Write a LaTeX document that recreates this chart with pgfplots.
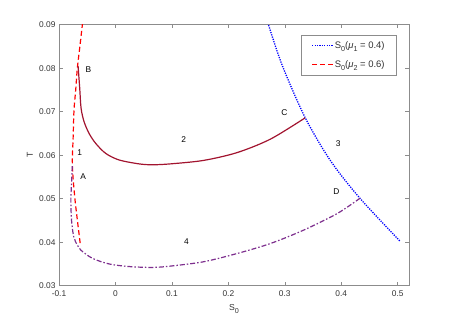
\documentclass[border=0pt]{standalone}
\usepackage{pgfplots}
\pgfplotsset{compat=1.18}
\usepackage{fontspec}
\setmainfont{Liberation Sans}

\definecolor{dkred}{rgb}{0.635,0.078,0.184}
\definecolor{mpurple}{rgb}{0.494,0.184,0.556}
\definecolor{axgray}{rgb}{0.55,0.55,0.55}
\definecolor{txtgray}{rgb}{0.2,0.2,0.2}
% MATLAB-like subscript: larger and lower than \textsubscript
\newcommand{\sub}[1]{\raisebox{-0.33em}{\fontsize{7.2}{8}\selectfont #1}}

\begin{document}
\begin{tikzpicture}
\path (0,0) rectangle (452bp,322bp);
\begin{axis}[
    at={(59bp,36.3bp)}, anchor=south west,
    scale only axis,
    width=350bp, height=261bp,
    xmin=-0.1, xmax=0.52,
    ymin=0.03, ymax=0.09,
    xtick={-0.1,0,0.1,0.2,0.3,0.4,0.5},
    xticklabels={-0.1,0,0.1,0.2,0.3,0.4,0.5},
    ytick={0.03,0.04,0.05,0.06,0.07,0.08,0.09},
    yticklabels={0.03,0.04,0.05,0.06,0.07,0.08,0.09},
    scaled ticks=false,
    tick align=inside,
    major tick length=3.5bp,
    axis line style={axgray, line width=0.6bp},
    tick style={axgray, line width=0.6bp},
    ticklabel style={font=\fontsize{8.4}{10}\selectfont, text=txtgray},
    xticklabel style={yshift=-1.5bp},
    label style={font=\fontsize{8.7}{10}\selectfont, text=txtgray},
    xlabel={S\sub{0}},
    ylabel={T},
    xlabel style={at={(axis description cs:0.5,-0.088)}, anchor=center},
    ylabel style={at={(axis description cs:-0.083,0.5)}, anchor=center},
    legend style={at={(0.9637,0.9606)}, anchor=north east, draw=axgray,
        font=\fontsize{9.5}{11}\selectfont, text=txtgray,
        row sep=7bp, inner xsep=10.5bp, inner ysep=4bp,
        nodes={inner xsep=1bp}},
    legend cell align=left,
    legend image code/.code={\draw[#1] (0bp,0bp) -- (21bp,0bp);},
]
% blue dotted boundary
\addplot[blue, line width=1.3bp, dash pattern=on 1.2bp off 1.2bp, smooth] coordinates {
    (0.2660,0.0920) (0.2710,0.0900) (0.2959,0.0805) (0.3362,0.0686)
    (0.3811,0.0587) (0.4331,0.0501) (0.5036,0.0403)};
\addlegendentry{S\sub{0}(\textit{μ}\sub{1} = 0.4)}
% red dashed boundary
\addplot[red, line width=1.2bp, dash pattern=on 5bp off 3bp, smooth] coordinates {
    (-0.0625,0.0398) (-0.0675,0.0451) (-0.0716,0.0497) (-0.0752,0.0550)
    (-0.0764,0.0589) (-0.0751,0.0635) (-0.0734,0.0704) (-0.0704,0.0750)
    (-0.0675,0.0800) (-0.0630,0.0850) (-0.0586,0.0900) (-0.0575,0.0912)};
\addlegendentry{S\sub{0}(\textit{μ}\sub{2} = 0.6)}
% dark red solid curve B-C
\addplot[dkred, line width=1.2bp, smooth, forget plot] coordinates {
    (-0.0662,0.0805) (-0.0633,0.0754) (-0.0609,0.0708) (-0.0556,0.0677)
    (-0.0467,0.0650) (-0.0349,0.0627) (-0.0171,0.0604) (0.0065,0.0589)
    (0.042,0.0580) (0.0656,0.0578) (0.097,0.0580) (0.156,0.0588)
    (0.2155,0.0606) (0.2746,0.0637) (0.3362,0.0686)};
% purple dash-dot curve A-D
\addplot[mpurple, line width=1.2bp, dash pattern=on 5bp off 2bp on 1.5bp off 2bp, smooth, forget plot] coordinates {
    (-0.0765,0.0575) (-0.0775,0.0543) (-0.0790,0.0497) (-0.0778,0.0451)
    (-0.0740,0.0413) (-0.0675,0.0393) (-0.0615,0.0382) (-0.0409,0.0363)
    (-0.0112,0.0350) (0.0243,0.0344) (0.0656,0.0342) (0.097,0.0345)
    (0.156,0.0355) (0.2155,0.0374) (0.2746,0.0397) (0.3337,0.0428)
    (0.393,0.0466) (0.4331,0.0501)};
% region labels
\begin{scope}[every node/.style={font=\fontsize{8.4}{10}\selectfont, text=black}]
\node at (axis cs:-0.048,0.0797) {B};
\node at (axis cs:-0.0635,0.0605) {1};
\node at (axis cs:-0.057,0.0551) {A};
\node at (axis cs:0.1207,0.0637) {2};
\node at (axis cs:0.2994,0.0698) {C};
\node at (axis cs:0.3947,0.0627) {3};
\node at (axis cs:0.3912,0.0516) {D};
\node at (axis cs:0.1259,0.0401) {4};
\end{scope}
\end{axis}
\end{tikzpicture}
\end{document}
